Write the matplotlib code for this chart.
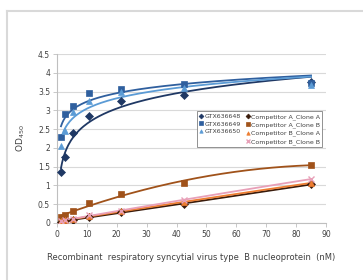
import matplotlib
matplotlib.use('Agg')
import matplotlib.pyplot as plt
from matplotlib.lines import Line2D
import numpy as np

# protein concentration (nM), two-fold dilutions
conc = np.array([1.33, 2.66, 5.31, 10.6, 21.25, 42.5, 85.0])

# OD450 readings per antibody
gtx636648 = [1.35, 1.75, 2.40, 2.85, 3.25, 3.40, 3.75]
gtx636649 = [2.30, 2.90, 3.12, 3.45, 3.57, 3.70, 3.72]
gtx636650 = [2.05, 2.45, 2.95, 3.25, 3.50, 3.60, 3.68]
compA_cloneA = [0.03, 0.05, 0.08, 0.15, 0.30, 0.50, 1.03]
compA_cloneB = [0.15, 0.20, 0.33, 0.52, 0.76, 1.07, 1.55]
compB_cloneA = [0.05, 0.07, 0.10, 0.18, 0.32, 0.55, 1.07]
compB_cloneB = [0.06, 0.08, 0.10, 0.20, 0.33, 0.62, 1.17]

series = [
    ('GTX636648', gtx636648, '#1f3864', 'D', 'log'),
    ('GTX636649', gtx636649, '#2f5f9e', 's', 'log'),
    ('GTX636650', gtx636650, '#5b9bd5', '^', 'log'),
    ('Competitor A_Clone A', compA_cloneA, '#3a1c0c', 'D', 'lin'),
    ('Competitor A_Clone B', compA_cloneB, '#a0521a', 's', 'lin'),
    ('Competitor B_Clone A', compB_cloneA, '#ed7d31', '^', 'lin'),
    ('Competitor B_Clone B', compB_cloneB, '#e8a0b8', 'x', 'lin'),
]

W, H = 363, 280
fig = plt.figure(figsize=(W / 100, H / 100), dpi=100)
ax = fig.add_axes([57 / W, 1 - 223 / H, (326 - 57) / W, (223 - 54) / H])

# light frame around the chart area
fig.add_artist(Line2D([7 / W, 7 / W], [0, 1 - 11 / H], color='#d9d9d9', lw=1.5, transform=fig.transFigure))
fig.add_artist(Line2D([7 / W, 1], [1 - 11 / H, 1 - 11 / H], color='#d9d9d9', lw=1.5, transform=fig.transFigure))

xs = np.linspace(conc[0], conc[-1], 200)
handles = []
for name, vals, col, mk, kind in series:
    vals = np.array(vals)
    # trendline
    if kind == 'log':
        p = np.polyfit(np.log(conc), vals, 1)
        ys = np.polyval(p, np.log(xs))
    else:
        p = np.polyfit(conc, vals, 2)
        ys = np.polyval(p, xs)
    ax.plot(xs, ys, color=col, lw=1.3, zorder=3)
    ms = 5 if mk == 's' else 4.5
    h, = ax.plot(conc, vals, linestyle='none', marker=mk, color=col, ms=ms,
                 markeredgewidth=1.0 if mk == 'x' else 0.5, zorder=4, label=name)
    handles.append(h)

ax.set_xlim(0, 90)
ax.set_ylim(0, 4.5)
ax.set_xticks(np.arange(0, 91, 10))
ax.set_yticks(np.arange(0, 4.51, 0.5))
ax.set_yticklabels(['0', '0.5', '1', '1.5', '2', '2.5', '3', '3.5', '4', '4.5'])
ax.yaxis.grid(True, color='#d9d9d9', lw=0.8)
ax.set_axisbelow(True)
for s in ['top', 'right']:
    ax.spines[s].set_visible(False)
for s in ['left', 'bottom']:
    ax.spines[s].set_color('#bfbfbf')
    ax.spines[s].set_linewidth(0.8)
ax.tick_params(axis='both', colors='#bfbfbf', labelcolor='#404040', labelsize=5.5,
               length=3, width=0.6, pad=2)

ax.set_xlabel('Recombinant  respiratory syncytial virus type  B nucleoprotein  (nM)',
              fontsize=6, color='#404040', labelpad=10)
ax.set_ylabel('OD$_{450}$', fontsize=6.5, color='#404040', labelpad=8)

blank = Line2D([], [], linestyle='none')
order = handles[0:3] + [blank] + handles[3:7]
labels = [h.get_label() for h in handles[0:3]] + [''] + [h.get_label() for h in handles[3:7]]
leg = ax.legend(order, labels, ncol=2, fontsize=4.5, loc='upper left',
                bbox_to_anchor=((197 - 57) / (326 - 57), 1 - (111 - 54) / (223 - 54)),
                frameon=True, fancybox=False, edgecolor='#808080', framealpha=1,
                handlelength=0.5, handletextpad=0.25, columnspacing=0.9,
                labelspacing=0.38, borderpad=0.4, markerscale=0.55,
                borderaxespad=0)
leg.get_frame().set_linewidth(0.6)
for t in leg.get_texts():
    t.set_color('#404040')

fig.savefig('out.png', dpi=100)
